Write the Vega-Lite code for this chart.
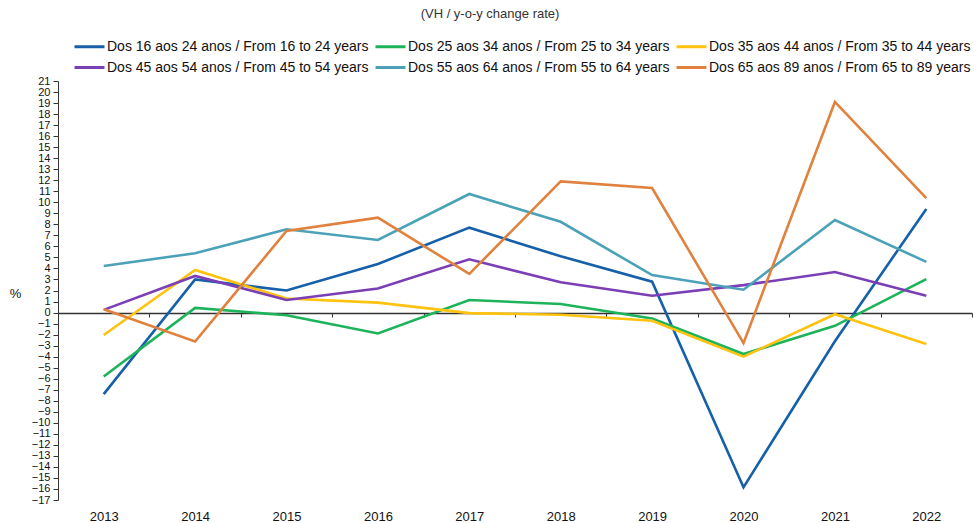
{
  "$schema": "https://vega.github.io/schema/vega-lite/v6.json",
  "width": 914,
  "height": 419,
  "autosize": "none",
  "padding": {"left": 58, "top": 81, "right": 2, "bottom": 23},
  "background": "white",
  "title": {
    "text": "(VH / y-o-y change rate)",
    "anchor": "middle",
    "dx": -25,
    "offset": 14,
    "font": "Liberation Sans",
    "fontSize": 13,
    "fontWeight": "normal",
    "color": "#333333"
  },
  "config": {
    "view": {"stroke": null},
    "font": "Liberation Sans"
  },
  "data": {
    "values": [
      {"year": "2013", "group": "Dos 16 aos 24 anos / From 16 to 24 years", "value": -7.4},
      {"year": "2014", "group": "Dos 16 aos 24 anos / From 16 to 24 years", "value": 3.0},
      {"year": "2015", "group": "Dos 16 aos 24 anos / From 16 to 24 years", "value": 2.0},
      {"year": "2016", "group": "Dos 16 aos 24 anos / From 16 to 24 years", "value": 4.4},
      {"year": "2017", "group": "Dos 16 aos 24 anos / From 16 to 24 years", "value": 7.7},
      {"year": "2018", "group": "Dos 16 aos 24 anos / From 16 to 24 years", "value": 5.1},
      {"year": "2019", "group": "Dos 16 aos 24 anos / From 16 to 24 years", "value": 2.8},
      {"year": "2020", "group": "Dos 16 aos 24 anos / From 16 to 24 years", "value": -15.85},
      {"year": "2021", "group": "Dos 16 aos 24 anos / From 16 to 24 years", "value": -2.6},
      {"year": "2022", "group": "Dos 16 aos 24 anos / From 16 to 24 years", "value": 9.4},
      {"year": "2013", "group": "Dos 25 aos 34 anos / From 25 to 34 years", "value": -5.8},
      {"year": "2014", "group": "Dos 25 aos 34 anos / From 25 to 34 years", "value": 0.42},
      {"year": "2015", "group": "Dos 25 aos 34 anos / From 25 to 34 years", "value": -0.24},
      {"year": "2016", "group": "Dos 25 aos 34 anos / From 25 to 34 years", "value": -1.9},
      {"year": "2017", "group": "Dos 25 aos 34 anos / From 25 to 34 years", "value": 1.14},
      {"year": "2018", "group": "Dos 25 aos 34 anos / From 25 to 34 years", "value": 0.77},
      {"year": "2019", "group": "Dos 25 aos 34 anos / From 25 to 34 years", "value": -0.53},
      {"year": "2020", "group": "Dos 25 aos 34 anos / From 25 to 34 years", "value": -3.76},
      {"year": "2021", "group": "Dos 25 aos 34 anos / From 25 to 34 years", "value": -1.2},
      {"year": "2022", "group": "Dos 25 aos 34 anos / From 25 to 34 years", "value": 3.04},
      {"year": "2013", "group": "Dos 35 aos 44 anos / From 35 to 44 years", "value": -2.03},
      {"year": "2014", "group": "Dos 35 aos 44 anos / From 35 to 44 years", "value": 3.86},
      {"year": "2015", "group": "Dos 35 aos 44 anos / From 35 to 44 years", "value": 1.27},
      {"year": "2016", "group": "Dos 35 aos 44 anos / From 35 to 44 years", "value": 0.9},
      {"year": "2017", "group": "Dos 35 aos 44 anos / From 35 to 44 years", "value": -0.05},
      {"year": "2018", "group": "Dos 35 aos 44 anos / From 35 to 44 years", "value": -0.2},
      {"year": "2019", "group": "Dos 35 aos 44 anos / From 35 to 44 years", "value": -0.74},
      {"year": "2020", "group": "Dos 35 aos 44 anos / From 35 to 44 years", "value": -4.0},
      {"year": "2021", "group": "Dos 35 aos 44 anos / From 35 to 44 years", "value": -0.15},
      {"year": "2022", "group": "Dos 35 aos 44 anos / From 35 to 44 years", "value": -2.85},
      {"year": "2013", "group": "Dos 45 aos 54 anos / From 45 to 54 years", "value": 0.24},
      {"year": "2014", "group": "Dos 45 aos 54 anos / From 45 to 54 years", "value": 3.32},
      {"year": "2015", "group": "Dos 45 aos 54 anos / From 45 to 54 years", "value": 1.14},
      {"year": "2016", "group": "Dos 45 aos 54 anos / From 45 to 54 years", "value": 2.18},
      {"year": "2017", "group": "Dos 45 aos 54 anos / From 45 to 54 years", "value": 4.83},
      {"year": "2018", "group": "Dos 45 aos 54 anos / From 45 to 54 years", "value": 2.74},
      {"year": "2019", "group": "Dos 45 aos 54 anos / From 45 to 54 years", "value": 1.52},
      {"year": "2020", "group": "Dos 45 aos 54 anos / From 45 to 54 years", "value": 2.49},
      {"year": "2021", "group": "Dos 45 aos 54 anos / From 45 to 54 years", "value": 3.67},
      {"year": "2022", "group": "Dos 45 aos 54 anos / From 45 to 54 years", "value": 1.52},
      {"year": "2013", "group": "Dos 55 aos 64 anos / From 55 to 64 years", "value": 4.22},
      {"year": "2014", "group": "Dos 55 aos 64 anos / From 55 to 64 years", "value": 5.38},
      {"year": "2015", "group": "Dos 55 aos 64 anos / From 55 to 64 years", "value": 7.55},
      {"year": "2016", "group": "Dos 55 aos 64 anos / From 55 to 64 years", "value": 6.58},
      {"year": "2017", "group": "Dos 55 aos 64 anos / From 55 to 64 years", "value": 10.75},
      {"year": "2018", "group": "Dos 55 aos 64 anos / From 55 to 64 years", "value": 8.23},
      {"year": "2019", "group": "Dos 55 aos 64 anos / From 55 to 64 years", "value": 3.4},
      {"year": "2020", "group": "Dos 55 aos 64 anos / From 55 to 64 years", "value": 2.07},
      {"year": "2021", "group": "Dos 55 aos 64 anos / From 55 to 64 years", "value": 8.39},
      {"year": "2022", "group": "Dos 55 aos 64 anos / From 55 to 64 years", "value": 4.6},
      {"year": "2013", "group": "Dos 65 aos 89 anos / From 65 to 89 years", "value": 0.3},
      {"year": "2014", "group": "Dos 65 aos 89 anos / From 65 to 89 years", "value": -2.63},
      {"year": "2015", "group": "Dos 65 aos 89 anos / From 65 to 89 years", "value": 7.4},
      {"year": "2016", "group": "Dos 65 aos 89 anos / From 65 to 89 years", "value": 8.6},
      {"year": "2017", "group": "Dos 65 aos 89 anos / From 65 to 89 years", "value": 3.5},
      {"year": "2018", "group": "Dos 65 aos 89 anos / From 65 to 89 years", "value": 11.9},
      {"year": "2019", "group": "Dos 65 aos 89 anos / From 65 to 89 years", "value": 11.29},
      {"year": "2020", "group": "Dos 65 aos 89 anos / From 65 to 89 years", "value": -2.77},
      {"year": "2021", "group": "Dos 65 aos 89 anos / From 65 to 89 years", "value": 19.1},
      {"year": "2022", "group": "Dos 65 aos 89 anos / From 65 to 89 years", "value": 10.38}
    ]
  },
  "mark": {"type": "line", "strokeWidth": 2.6},
  "encoding": {
    "x": {
      "field": "year",
      "type": "ordinal",
      "scale": {"type": "band", "paddingInner": 0, "paddingOuter": 0},
      "axis": {
        "title": null,
        "labelAngle": 0,
        "offset": -187,
        "tickBand": "extent",
        "tickSize": 4,
        "tickColor": "#333333",
        "domainColor": "#333333",
        "domainWidth": 1.6,
        "labelPadding": 193,
        "labelFont": "Liberation Sans",
        "labelFontSize": 13,
        "labelColor": "#111111",
        "labelBaseline": "top"
      }
    },
    "y": {
      "field": "value",
      "type": "quantitative",
      "scale": {"domain": [-17, 21], "nice": false, "zero": false},
      "axis": {
        "values": [-17,-16,-15,-14,-13,-12,-11,-10,-9,-8,-7,-6,-5,-4,-3,-2,-1,0,1,2,3,4,5,6,7,8,9,10,11,12,13,14,15,16,17,18,19,20,21],
        "grid": false,
        "title": "%",
        "titleAngle": 0,
        "titleX": -43,
        "titleY": 212,
        "titleAlign": "center",
        "titleBaseline": "middle",
        "titleFont": "Liberation Sans",
        "titleFontSize": 13,
        "titleFontWeight": "normal",
        "titleColor": "#111111",
        "tickSize": 5,
        "tickColor": "#333333",
        "domainColor": "#333333",
        "labelPadding": 3,
        "labelFont": "Liberation Sans",
        "labelFontSize": 11,
        "labelColor": "#111111",
        "labelOverlap": false
      }
    },
    "color": {
      "field": "group",
      "type": "nominal",
      "scale": {
        "domain": [
          "Dos 16 aos 24 anos / From 16 to 24 years",
          "Dos 25 aos 34 anos / From 25 to 34 years",
          "Dos 35 aos 44 anos / From 35 to 44 years",
          "Dos 45 aos 54 anos / From 45 to 54 years",
          "Dos 55 aos 64 anos / From 55 to 64 years",
          "Dos 65 aos 89 anos / From 65 to 89 years"
        ],
        "range": ["#1560a8", "#1cb35a", "#ffc20e", "#7b3fb5", "#4ba2b8", "#e0823d"]
      },
      "legend": {
        "title": null,
        "orient": "none",
        "legendX": 20,
        "legendY": -46,
        "columns": 3,
        "direction": "horizontal",
        "symbolType": "M-1.5,0L1.5,0",
        "symbolSize": 400,
        "symbolStrokeWidth": 3,
        "labelOffset": 6,
        "labelFont": "Liberation Sans",
        "labelFontSize": 14,
        "labelColor": "#111111",
        "labelLimit": 0,
        "columnPadding": 0,
        "rowPadding": 2
      }
    }
  }
}
